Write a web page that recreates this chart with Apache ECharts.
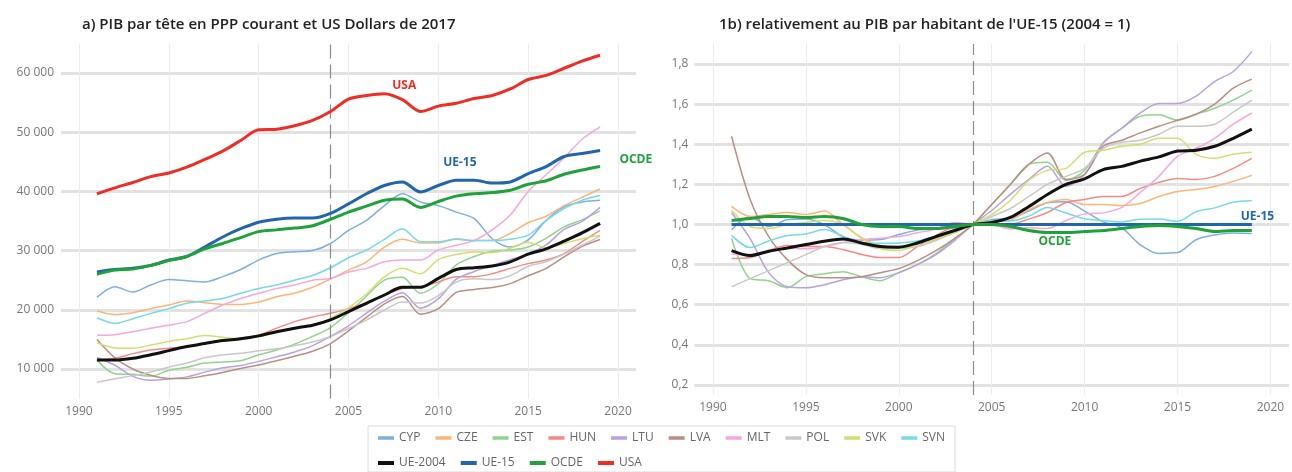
<!DOCTYPE html>
<html>
<head>
<meta charset="utf-8">
<title>PIB par tête</title>
<script src="https://cdn.jsdelivr.net/npm/echarts@6/dist/echarts.min.js"></script>
<style>
  html, body { margin: 0; padding: 0; background: #fff; }
  #chart { width: 1292px; height: 472px; }
</style>
</head>
<body>
<div id="chart"></div>
<script>
var years = [1991,1992,1993,1994,1995,1996,1997,1998,1999,2000,2001,2002,2003,2004,2005,
             2006,2007,2008,2009,2010,2011,2012,2013,2014,2015,2016,2017,2018,2019];
var names = ['CYP','CZE','EST','HUN','LTU','LVA','MLT','POL','SVK','SVN','UE-2004','UE-15','OCDE','USA'];
var colors = ['#7cb1dd','#fdb573','#8fd58a','#f58a85','#b9a1e0','#b98e83','#f6a7dc','#c8c8c8','#d6dd70','#74d9ea',
              '#111111','#2166ad','#1fa23a','#ee2d24'];

// a) PIB par tête, PPP, USD 2017
var cypA = [22100,23900,23000,24200,25100,24900,24700,25600,26800,28400,29500,29800,30000,31200,33400,35100,37600,39600,38200,37600,36500,35400,32000,30600,31800,35100,37400,38200,38500];
var czeA = [19800,19200,19500,20200,20800,21500,21200,20900,20900,21300,22200,22800,23800,25200,26700,28100,30600,31900,31300,31300,32000,31700,31700,32900,34700,35800,37600,39000,40400];
var estA = [11500,9200,9100,8800,9800,10300,11000,11200,11400,12400,13200,14200,15500,17000,19500,22300,25000,25500,22800,24400,27600,29000,29900,30100,30600,32100,34000,35200,36700];
var hunA = [11500,11800,12600,13200,13500,13800,14300,14800,15200,15700,16900,18000,18800,19400,20200,21200,22500,23600,23900,24700,25600,25600,26100,27000,27800,28400,29500,31500,33400];
var ltuA = [11950,10640,8760,8100,8300,8670,9470,10200,10580,11290,12060,12880,13950,15500,17300,19450,21450,22900,20270,21880,25170,26480,27500,28470,29430,30950,33570,34930,37290];
var lvaA = [14980,11880,10000,8940,8390,8400,8860,9420,10090,10690,11400,12170,13010,14300,16430,18720,21000,22240,19260,20190,22950,23440,23770,24420,25750,26990,28940,30710,31880];
var mltA = [15700,15800,16300,16900,17400,18000,19400,20800,21900,22800,23600,24200,25000,25300,26400,27000,28100,28400,28400,30100,30900,31700,33500,36000,40000,42800,45700,48800,50900];
var polA = [7780,8350,8880,9510,10310,11020,11890,12410,12660,13080,13410,13950,14550,15500,16830,18260,19960,21320,21130,22410,24690,25230,25100,25760,27360,28120,29400,30910,32440];
var svkA = [14430,13560,13520,14050,14660,15120,15640,15350,15150,15470,16230,16870,17410,18550,20340,22660,25560,27000,26100,28490,29330,29760,29620,30400,31420,30490,31190,32010,32600];
var svnA = [18650,17700,18500,19400,20200,21100,21500,21900,22800,23600,24200,25000,25800,27100,28800,30100,31900,33700,31500,31500,31900,31700,31700,31900,32600,35100,37100,38500,39300];
var ue2004A = [11500,11500,11800,12400,13100,13800,14300,14800,15100,15600,16300,16900,17400,18300,19700,21100,22500,23800,23800,25300,26800,27100,27400,28100,29400,30300,31600,33000,34600];
var ue15A = [26400,26800,27000,27500,28400,29000,30600,32300,33700,34800,35300,35500,35500,36300,37900,39600,41000,41600,39900,41000,41900,41900,41400,41600,43000,44200,45900,46400,46900];
var ocdeA = [26000,26700,26900,27500,28300,29000,30300,31200,32200,33200,33500,33800,34200,35300,36500,37500,38500,38700,37300,38300,39200,39600,39800,40200,41200,41800,42900,43600,44200];
var usaA = [39600,40600,41500,42500,43100,44100,45400,46800,48600,50400,50500,51100,52000,53500,55600,56200,56500,55500,53500,54400,54900,55700,56200,57300,58900,59600,60800,62000,63000];

// b) relativement au PIB par habitant de l'UE-15 (2004 = 1)
var cypB = [0.974,1.04,0.99,1.024,1.028,0.999,0.939,0.922,0.925,0.95,0.972,0.977,0.983,1,1.025,1.031,1.067,1.108,1.114,1.067,1.013,0.983,0.899,0.856,0.86,0.924,0.948,0.958,0.955];
var czeB = [1.09,1.04,1.05,1.06,1.05,1.067,1.0,0.935,0.895,0.885,0.906,0.925,0.966,1,1.015,1.022,1.075,1.11,1.125,1.1,1.1,1.095,1.105,1.14,1.165,1.175,1.19,1.215,1.245];
var estB = [0.93,0.73,0.72,0.685,0.74,0.755,0.765,0.74,0.72,0.76,0.80,0.855,0.93,1,1.1,1.2,1.3,1.31,1.22,1.27,1.407,1.48,1.54,1.547,1.52,1.55,1.58,1.62,1.67];
var hunB = [0.83,0.835,0.87,0.895,0.89,0.89,0.875,0.85,0.835,0.835,0.89,0.945,0.99,1,0.997,1.0,1.027,1.06,1.11,1.125,1.14,1.14,1.18,1.21,1.23,1.225,1.24,1.28,1.33];
var ltuB = [1.06,0.93,0.76,0.69,0.685,0.70,0.725,0.74,0.735,0.76,0.80,0.85,0.92,1,1.07,1.15,1.225,1.29,1.19,1.25,1.407,1.48,1.556,1.603,1.603,1.64,1.713,1.763,1.862];
var lvaB = [1.44,1.125,0.94,0.825,0.75,0.735,0.735,0.74,0.76,0.78,0.82,0.87,0.93,1,1.1,1.2,1.3,1.357,1.225,1.25,1.39,1.42,1.457,1.49,1.52,1.55,1.6,1.68,1.725];
var mltB = [0.853,0.846,0.866,0.882,0.879,0.89,0.91,0.924,0.932,0.94,0.959,0.978,1.01,1,0.999,0.978,0.984,0.98,1.02,1.053,1.058,1.085,1.16,1.24,1.34,1.38,1.43,1.5,1.556];
var polB = [0.69,0.73,0.77,0.81,0.85,0.89,0.91,0.90,0.88,0.88,0.89,0.92,0.96,1,1.04,1.08,1.14,1.2,1.24,1.28,1.38,1.41,1.42,1.45,1.49,1.49,1.5,1.56,1.62];
var svkB = [1.07,0.99,0.98,1.0,1.01,1.02,1.0,0.93,0.88,0.87,0.9,0.93,0.96,1,1.05,1.12,1.22,1.27,1.28,1.36,1.37,1.39,1.4,1.43,1.43,1.35,1.33,1.35,1.36];
var svnB = [0.946,0.885,0.918,0.945,0.953,0.975,0.941,0.908,0.906,0.908,0.918,0.943,0.973,1,1.018,1.018,1.042,1.085,1.057,1.029,1.02,1.013,1.026,1.027,1.015,1.064,1.083,1.111,1.12];
var ue2004B = [0.87,0.845,0.867,0.883,0.90,0.917,0.928,0.908,0.89,0.887,0.908,0.94,0.97,1,1.01,1.035,1.09,1.15,1.2,1.228,1.274,1.29,1.316,1.337,1.366,1.37,1.39,1.43,1.476];
var ue15B = [1,1,1,1,1,1,1,1,1,1,1,1,1,1,1,1,1,1,1,1,1,1,1,1,1,1,1,1,1];
var ocdeB = [1.02,1.03,1.04,1.04,1.035,1.04,1.03,1.0,0.99,0.99,0.98,0.98,0.99,1,1.0,0.99,0.97,0.96,0.96,0.965,0.97,0.98,0.99,0.995,0.99,0.98,0.965,0.97,0.97];

var seriesA = [cypA,czeA,estA,hunA,ltuA,lvaA,mltA,polA,svkA,svnA,ue2004A,ue15A,ocdeA,usaA];
var seriesB = [cypB,czeB,estB,hunB,ltuB,lvaB,mltB,polB,svkB,svnB,ue2004B,ue15B,ocdeB,null];

var font = "'Open Sans', 'Noto Sans', sans-serif";
var grid = '#e2e2e2';
var none = 'rgba(0,0,0,0)';

function pairs(arr) {
  return years.map(function (y, i) { return [y, arr[i]]; });
}

function xAxis(idx) {
  return {
    type: 'value', gridIndex: idx, min: 1989, max: 2021, interval: 1,
    axisLine: {show: false}, axisTick: {show: false},
    axisLabel: {
      color: '#777', fontSize: 12, fontFamily: font, margin: 7,
      formatter: function (v) { return v % 5 === 0 ? String(v) : ''; }
    },
    splitLine: {show: true, lineStyle: {width: 1, color: [none, '#ececec', none, none, none]}}
  };
}

var dash = {
  silent: true, symbol: 'none', label: {show: false},
  lineStyle: {color: '#8c8c8c', type: [14, 6], width: 1.2},
  data: [{xAxis: 2004}]
};

function tag(text, color, coord) {
  return {
    symbol: 'circle', symbolSize: 0, silent: true,
    label: {show: true, position: 'inside', formatter: text, color: color, fontWeight: 'bold', fontSize: 12, fontFamily: font},
    data: [{coord: coord}]
  };
}

var series = [];
for (var i = 0; i < names.length; i++) {
  var big = i >= 10;
  var s = {
    name: names[i], type: 'line', xAxisIndex: 0, yAxisIndex: 0,
    data: pairs(seriesA[i]), symbol: 'none', smooth: 0.3, z: big ? 5 : 2,
    color: colors[i], lineStyle: {width: big ? 3 : 1.5, color: colors[i]}
  };
  if (i === 0) s.markLine = dash;
  if (names[i] === 'USA') s.markPoint = tag('USA', colors[i], [2008.1, 57800]);
  if (names[i] === 'UE-15') s.markPoint = tag('UE-15', colors[i], [2011.2, 44800]);
  if (names[i] === 'OCDE') s.markPoint = tag('OCDE', colors[i], [2020.99, 45300]);
  series.push(s);
}
for (var j = 0; j < names.length; j++) {
  if (!seriesB[j]) continue;
  var big2 = j >= 10;
  var t = {
    name: names[j], type: 'line', xAxisIndex: 1, yAxisIndex: 1,
    data: pairs(seriesB[j]), symbol: 'none', smooth: 0.3, z: big2 ? 5 : 2,
    color: colors[j], lineStyle: {width: big2 ? 3 : 1.5, color: colors[j]}
  };
  if (j === 0) t.markLine = dash;
  if (names[j] === 'UE-15') t.markPoint = tag('UE-15', colors[j], [2019.3, 1.04]);
  if (names[j] === 'OCDE') t.markPoint = tag('OCDE', colors[j], [2008.4, 0.913]);
  series.push(t);
}

var legendText = {color: '#666', fontSize: 12, fontFamily: font};

var chart = echarts.init(document.getElementById('chart'));
chart.setOption({
  backgroundColor: '#fff',
  animation: false,
  title: [
    {text: 'a) PIB par tête en PPP courant et US Dollars de 2017', left: 77, top: 12,
     textStyle: {fontSize: 15, fontWeight: 600, color: '#222', fontFamily: font}},
    {text: "1b) relativement au PIB par habitant de l'UE-15 (2004 = 1)", left: 714, top: 12,
     textStyle: {fontSize: 15, fontWeight: 600, color: '#222', fontFamily: font}}
  ],
  legend: [
    {
      data: names.slice(0, 10), left: 368, top: 426, width: 620,
      padding: [6, 10, 28, 10], itemGap: 15, itemWidth: 16, itemHeight: 3.5, icon: 'rect',
      borderColor: '#dcdcdc', borderWidth: 1, textStyle: legendText
    },
    {
      data: names.slice(10), left: 368, top: 451, width: 600,
      padding: [6, 10, 4, 10], itemGap: 15, itemWidth: 16, itemHeight: 4, icon: 'rect',
      textStyle: legendText
    }
  ],
  grid: [
    {left: 61, width: 575, top: 43.4, height: 355.2},
    {left: 694.4, width: 596, top: 44, height: 351}
  ],
  xAxis: [xAxis(0), xAxis(1)],
  yAxis: [
    {
      type: 'value', gridIndex: 0, min: 5000, max: 65000, interval: 5000,
      axisLine: {show: false}, axisTick: {show: false},
      axisLabel: {color: '#777', fontSize: 12, fontFamily: font, margin: 7,
        formatter: function (v) { return v % 10000 === 0 ? (v / 1000) + ' 000' : ''; }},
      splitLine: {lineStyle: {width: 3, color: [none, grid]}}
    },
    {
      type: 'value', gridIndex: 1, min: 0.15, max: 1.9, interval: 0.05,
      axisLine: {show: false}, axisTick: {show: false},
      axisLabel: {color: '#777', fontSize: 12, fontFamily: font, margin: 6,
        formatter: function (v) {
          return Math.round(v * 100) % 20 === 0 ? v.toFixed(1).replace('.', ',') : '';
        }},
      splitLine: {lineStyle: {width: 3, color: [none, grid, none, none]}}
    }
  ],
  series: series
});
</script>
</body>
</html>
